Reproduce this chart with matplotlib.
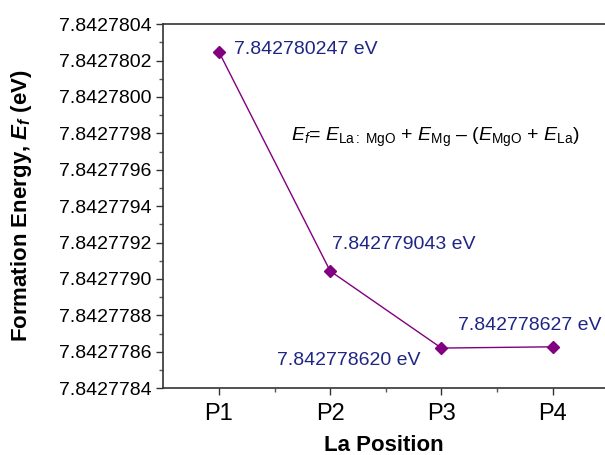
import numpy as np
import matplotlib.pyplot as plt
from matplotlib.ticker import FixedLocator, FormatStrFormatter

plt.rcParams['font.family'] = ['Liberation Sans', 'DejaVu Sans']
plt.rcParams['mathtext.fontset'] = 'custom'
plt.rcParams['mathtext.rm'] = 'Liberation Sans'
plt.rcParams['mathtext.it'] = 'Liberation Sans:italic'
plt.rcParams['mathtext.bf'] = 'Liberation Sans:bold'
plt.rcParams['mathtext.bfit'] = 'Liberation Sans:italic:bold'

positions = ['P1', 'P2', 'P3', 'P4']
energy = [7.842780247, 7.842779043, 7.842778620, 7.842778627]
labels = ['7.842780247 eV', '7.842779043 eV', '7.842778620 eV', '7.842778627 eV']

fig = plt.figure(figsize=(6.05, 4.55), dpi=100)
ax = fig.add_axes([0.27, 0.147, 0.73, 0.8])

x = np.arange(1, len(positions) + 1)
ax.plot(x, energy, '-', color='#800080', linewidth=1)
ax.plot(x, energy, 'D', color='#800080', markersize=6)

txt_color = '#1f2585'
# value labels next to each point
ax.annotate(labels[0], (x[0], energy[0]), xytext=(11, 2), textcoords='offset points',
            color=txt_color, fontsize=14, ha='left', va='center')
ax.annotate(labels[1], (x[1], energy[1]), xytext=(1, 19), textcoords='offset points',
            color=txt_color, fontsize=14, ha='left', va='center')
ax.annotate(labels[2], (x[2], energy[2]), xytext=(-15, -9), textcoords='offset points',
            color=txt_color, fontsize=14, ha='right', va='center')
ax.annotate(labels[3], (x[3], energy[3]), xytext=(-68, 15), textcoords='offset points',
            color=txt_color, fontsize=14, ha='left', va='center')

ax.text(0.615, 0.69,
        r'$E_f$= $E_{\mathrm{La:\ MgO}}$ + $E_{\mathrm{Mg}}$ – ($E_{\mathrm{MgO}}$ + $E_{\mathrm{La}}$)',
        transform=ax.transAxes, fontsize=14, ha='center', va='center')

ax.set_xlim(0.5, 4.47)
ax.set_ylim(7.8427784, 7.8427804)
ax.set_xticks(x)
ax.set_xticklabels(positions)
ax.xaxis.set_minor_locator(FixedLocator([1.5, 2.5, 3.5]))
ax.yaxis.set_major_locator(FixedLocator(np.linspace(7.8427784, 7.8427804, 11)))
ax.yaxis.set_minor_locator(FixedLocator(np.linspace(7.8427785, 7.8427803, 10)))
ax.yaxis.set_major_formatter(FormatStrFormatter('%.7f'))
ax.tick_params(axis='y', labelsize=14)
ax.tick_params(axis='x', labelsize=17, pad=6)
ax.tick_params(direction='out', length=5, width=1, color='#333333')
ax.tick_params(which='minor', direction='out', length=3, width=1, color='#555555')
ax.spines['right'].set_visible(False)
for s in ['top', 'left', 'bottom']:
    ax.spines[s].set_color('#333333')
    ax.spines[s].set_linewidth(1.2)

ax.set_xlabel('La Position', fontsize=16, fontweight='bold')
ax.xaxis.set_label_coords(0.5, -0.128)
ax.set_ylabel(r'Formation Energy, $\mathbfit{E_f}$ (eV)', fontsize=16, fontweight='bold')
ax.yaxis.set_label_coords(-0.294, 0.5)

plt.savefig('out.png', dpi=100)
